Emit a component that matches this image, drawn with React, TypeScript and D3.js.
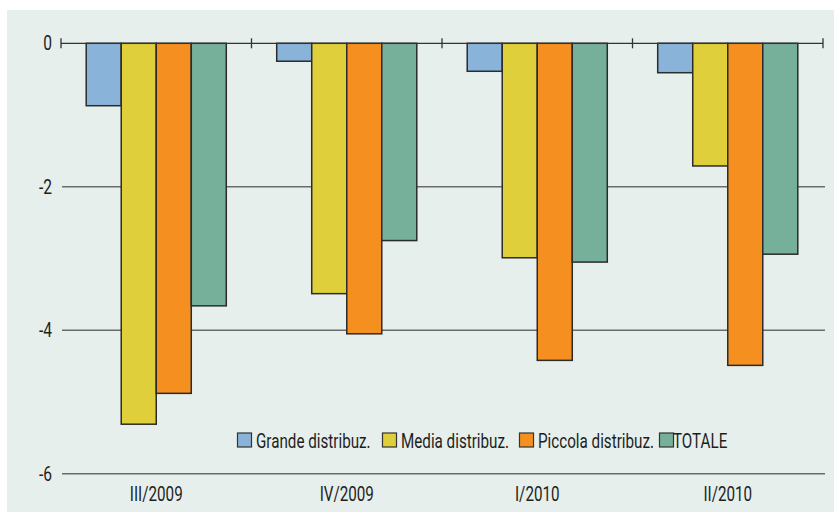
import React from 'react';
import * as d3 from 'd3';

const categories = ['III/2009', 'IV/2009', 'I/2010', 'II/2010'];
const seriesNames = ['Grande distribuz.', 'Media distribuz.', 'Piccola distribuz.', 'TOTALE'];
const grande = [-0.87, -0.25, -0.39, -0.41];
const media = [-5.31, -3.49, -2.99, -1.71];
const piccola = [-4.88, -4.05, -4.42, -4.49];
const totale = [-3.66, -2.75, -3.05, -2.94];
const yTicks = [0, -2, -4, -6];

const colors = ['#8ab3d9', '#dfcf3a', '#f58f1f', '#76af9a'];
const font = 'Roboto, "Liberation Sans", sans-serif';
const squeeze = 0.78;

// condensed-looking text: plain Roboto squeezed horizontally
function Label(props: { x: number; y: number; anchor?: string; size?: number; children: React.ReactNode }) {
  return (
    <text
      transform={`translate(${props.x},${props.y}) scale(${squeeze},1)`}
      textAnchor={props.anchor || 'start'}
      fontFamily={font}
      fontSize={props.size || 19.5}
      fill="#1e1e1e"
    >
      {props.children}
    </text>
  );
}

export default function App() {
  const width = 834;
  const height = 512;
  const left = 61;
  const right = 823;
  const series = [grande, media, piccola, totale];

  const y = d3.scaleLinear().domain([0, -6]).range([43.3, 473.7]);
  const x = d3.scaleBand().domain(categories).range([left, right]).paddingInner(0).paddingOuter(0);
  const inner = d3.scaleBand().domain(seriesNames).range([0, x.bandwidth()]).paddingInner(0).paddingOuter(0.72);

  const boundaries = categories.map((c) => x(c) as number).concat([right]);
  const legendX = [237, 382, 519, 659];

  return (
    <svg width={width} height={height} style={{ position: 'absolute', left: 0, top: 0 }}>
      <rect x={7} y={10} width={width - 7} height={height - 10} fill="#e6efec" />
      {yTicks.filter((t) => t !== 0).map((t) => (
        <line key={t} x1={62} x2={825} y1={y(t)} y2={y(t)} stroke="#6b6b6b" strokeWidth={1.6} />
      ))}
      {yTicks.map((t) => (
        <Label key={t} x={52} y={y(t) + 7} anchor="end" size={20}>
          {t}
        </Label>
      ))}
      {categories.map((c, ci) =>
        series.map((s, si) => {
          const bx = (x(c) as number) + (inner(seriesNames[si]) as number);
          return (
            <rect
              key={c + si}
              x={bx}
              y={y(0)}
              width={inner.bandwidth()}
              height={y(s[ci]) - y(0)}
              fill={colors[si]}
              stroke="#2b2b2b"
              strokeWidth={1.5}
            />
          );
        })
      )}
      <line x1={left} x2={right} y1={y(0)} y2={y(0)} stroke="#333" strokeWidth={1.3} />
      {boundaries.map((b, i) => (
        <line key={i} x1={b} x2={b} y1={y(0) - 5} y2={y(0) + 5} stroke="#333" strokeWidth={1.3} />
      ))}
      {categories.map((c) => (
        <Label key={c} x={(x(c) as number) + x.bandwidth() / 2} y={501} anchor="middle">
          {c}
        </Label>
      ))}
      {seriesNames.map((n, i) => (
        <g key={n} transform={`translate(${legendX[i]},433)`}>
          <rect x={0.5} y={0} width={14} height={14} fill={colors[i]} stroke="#333" strokeWidth={1.2} />
          <Label x={i === 3 ? 14 : 19} y={14.5}>
            {n}
          </Label>
        </g>
      ))}
    </svg>
  );
}
